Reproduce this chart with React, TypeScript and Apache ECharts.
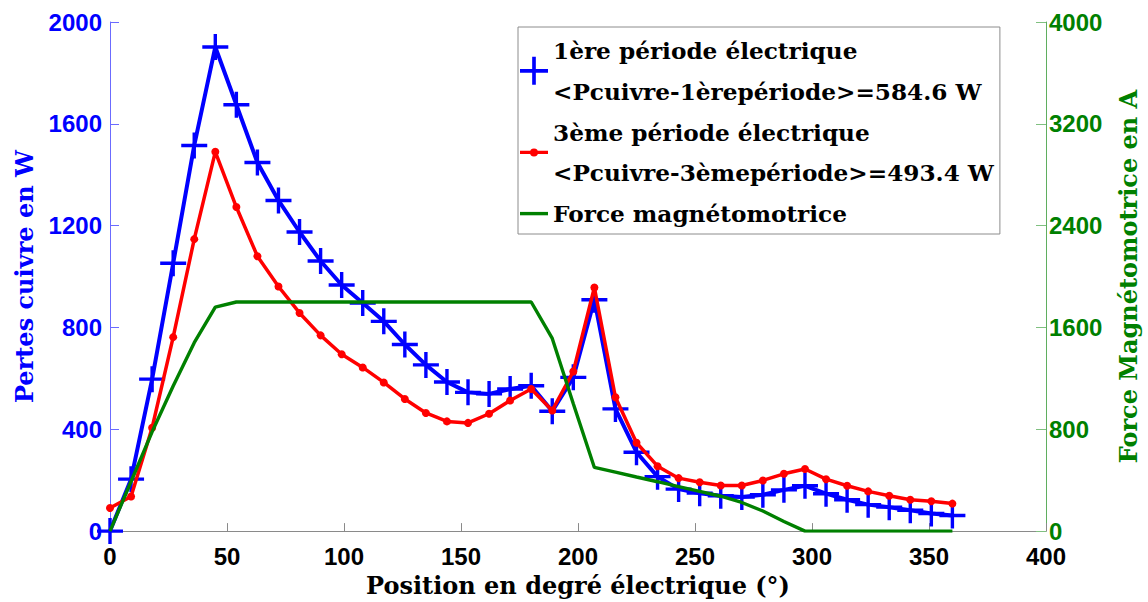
import React, { useEffect, useRef } from "react";
import * as echarts from "echarts";

// Position en degré électrique (°)
const positions = [
  0, 9, 18, 27, 36, 45, 54, 63, 72, 81, 90, 99, 108, 117, 126, 135, 144, 153,
  162, 171, 180, 189, 198, 207, 216, 225, 234, 243, 252, 261, 270, 279, 288,
  297, 306, 315, 324, 333, 342, 351, 360,
];

// Pertes cuivre (W) — 1ère période électrique
const pertes1 = [
  0, 204, 597, 1052, 1515, 1902, 1675, 1448, 1299, 1175, 1061, 967, 896, 824,
  733, 653, 586, 545, 539, 558, 571, 471, 604, 909, 480, 310, 214, 165, 149,
  139, 134, 143, 162, 178, 147, 123, 104, 94, 82, 69, 61,
];

// Pertes cuivre (W) — 3ème période électrique
const pertes3 = [
  91, 136, 406, 762, 1147, 1490, 1273, 1080, 961, 857, 769, 695, 643, 584,
  519, 464, 431, 425, 461, 513, 558, 474, 627, 957, 526, 347, 255, 208, 192,
  179, 179, 199, 225, 244, 204, 178, 156, 139, 123, 117, 108,
];

// Force magnétomotrice (A)
const fmm = [
  0, 390, 780, 1140, 1480, 1760, 1800, 1800, 1800, 1800, 1800, 1800, 1800,
  1800, 1800, 1800, 1800, 1800, 1800, 1800, 1800, 1514, 1000, 500, 463, 425,
  388, 350, 312, 274, 225, 158, 76, 0, 0, 0, 0, 0, 0, 0, 0,
];

const NAME1 = "1ère période électrique\n<Pcuivre-1èrepériode>=584.6 W";
const NAME3 = "3ème période électrique\n<Pcuivre-3èmepériode>=493.4 W";
const NAMEF = "Force magnétomotrice";

const X_TITLE = "Position en degré électrique (°)";
const Y_LEFT_TITLE = "Pertes cuivre en W";
const Y_RIGHT_TITLE = "Force Magnétomotrice en A";

const BLUE = "#0000ff";
const RED = "#ff0000";
const GREEN = "#008000";

const CROSS =
  "path://M-1.7,-13 L1.7,-13 L1.7,-1.7 L13,-1.7 L13,1.7 L1.7,1.7 L1.7,13 L-1.7,13 L-1.7,1.7 L-13,1.7 L-13,-1.7 L-1.7,-1.7 Z";
const RED_ICON =
  "path://M0,2.3 L10.5,2.3 L10.5,5.7 L0,5.7 Z M17.5,2.3 L28,2.3 L28,5.7 L17.5,5.7 Z M10,4 A4,4 0 1 1 18,4 A4,4 0 1 1 10,4 Z";
const GREEN_ICON = "path://M0,0 L28,0 L28,3.4 L0,3.4 Z";

const SERIF = "'DejaVu Serif', 'Liberation Serif', serif";
const SANS = "'Liberation Sans', Arial, sans-serif";

const plain = (v: number) => String(v);

export default function App() {
  const ref = useRef<HTMLDivElement>(null);

  useEffect(() => {
    document.body.style.margin = "0";
    if (!ref.current) return;
    const chart = echarts.init(ref.current, undefined, { renderer: "svg" });

    const pair = (vals: number[]) => vals.map((v, i) => [positions[i], v]);

    chart.setOption({
      animation: false,
      backgroundColor: "#ffffff",
      grid: { left: 110, right: 101, top: 22, bottom: 67, containLabel: false },
      legend: {
        orient: "vertical",
        left: 518,
        top: 27,
        padding: [3, 6, 0, 2],
        itemGap: 0,
        itemWidth: 28,
        itemHeight: 28,
        borderColor: "#8c8c8c",
        borderWidth: 1,
        backgroundColor: "#ffffff",
        selectedMode: false,
        textStyle: {
          fontFamily: SERIF,
          fontWeight: "bold",
          fontSize: 23.2,
          lineHeight: 40.8,
          color: "#000",
        },
        data: [
          { name: NAME1, icon: CROSS },
          { name: NAME3, icon: RED_ICON },
          { name: NAMEF, icon: GREEN_ICON },
        ],
      },
      xAxis: {
        type: "value",
        min: 0,
        max: 400,
        interval: 50,
        name: X_TITLE,
        nameLocation: "middle",
        nameGap: 39,
        nameTextStyle: {
          fontFamily: SERIF,
          fontWeight: "bold",
          fontSize: 24,
          color: "#000",
        },
        axisLine: { show: true, lineStyle: { color: "#8a8a8a", width: 1 } },
        axisTick: { show: true, inside: true, length: 8, lineStyle: { color: "#8a8a8a" } },
        axisLabel: {
          fontFamily: SANS,
          fontWeight: "bold",
          fontSize: 24,
          color: "#000",
          margin: 13,
          formatter: plain,
        },
        splitLine: { show: false },
      },
      yAxis: [
        {
          type: "value",
          position: "left",
          min: 0,
          max: 2000,
          interval: 400,
          name: Y_LEFT_TITLE,
          nameLocation: "middle",
          nameGap: 74,
          nameTextStyle: {
            fontFamily: SERIF,
            fontWeight: "bold",
            fontSize: 24,
            color: BLUE,
          },
          axisLine: { show: true, lineStyle: { color: "#6b6bff", width: 1 } },
          axisTick: { show: true, inside: true, length: 9, lineStyle: { color: "#6b6bff" } },
          axisLabel: {
            fontFamily: SANS,
            fontWeight: "bold",
            fontSize: 24,
            color: BLUE,
            margin: 8,
            formatter: plain,
          },
          splitLine: { show: false },
        },
        {
          type: "value",
          position: "right",
          min: 0,
          max: 4000,
          interval: 800,
          name: Y_RIGHT_TITLE,
          nameLocation: "middle",
          nameGap: 70,
          nameRotate: 90,
          nameTextStyle: {
            fontFamily: SERIF,
            fontWeight: "bold",
            fontSize: 24,
            color: GREEN,
          },
          axisLine: { show: true, lineStyle: { color: "#5fae5f", width: 1 } },
          axisTick: { show: true, inside: true, length: 10, lineStyle: { color: "#80c080" } },
          axisLabel: {
            fontFamily: SANS,
            fontWeight: "bold",
            fontSize: 24,
            color: GREEN,
            margin: 3,
            formatter: plain,
          },
          splitLine: { show: false },
        },
      ],
      series: [
        {
          name: NAME1,
          type: "line",
          yAxisIndex: 0,
          data: pair(pertes1),
          symbol: CROSS,
          symbolSize: 26,
          showAllSymbol: true,
          lineStyle: { color: BLUE, width: 4 },
          itemStyle: { color: BLUE },
          z: 2,
        },
        {
          name: NAME3,
          type: "line",
          yAxisIndex: 0,
          data: pair(pertes3),
          symbol: "circle",
          symbolSize: 8,
          showAllSymbol: true,
          lineStyle: { color: RED, width: 3.5 },
          itemStyle: { color: RED },
          z: 3,
        },
        {
          name: NAMEF,
          type: "line",
          yAxisIndex: 1,
          data: pair(fmm),
          symbol: "none",
          lineStyle: { color: GREEN, width: 3.4 },
          itemStyle: { color: GREEN },
          z: 4,
        },
      ],
    });

    return () => chart.dispose();
  }, []);

  return <div ref={ref} style={{ width: 1148, height: 602 }} />;
}
